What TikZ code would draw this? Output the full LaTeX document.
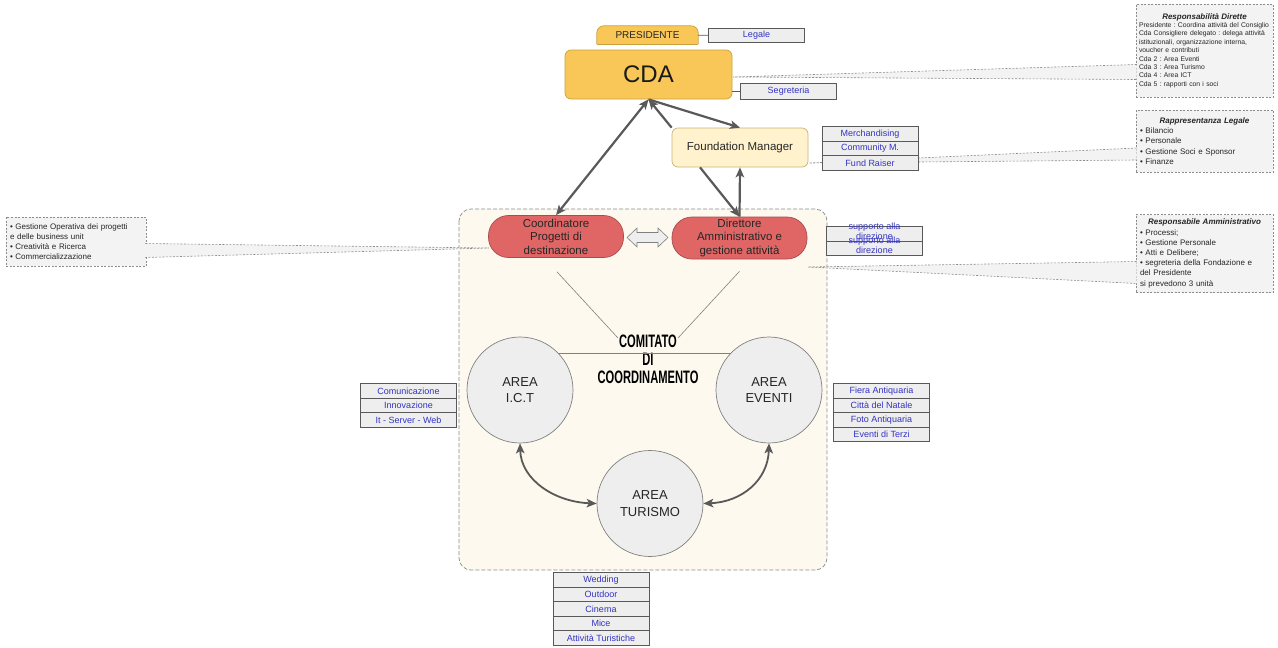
\documentclass[tikz,border=0pt]{standalone}
\usepackage{fontspec}
\setmainfont{Liberation Sans}
\newfontfamily\condfont[FakeStretch=0.62]{Liberation Sans}
\usetikzlibrary{positioning,arrows.meta,backgrounds}
\frenchspacing
\hyphenpenalty=10000

\definecolor{cdagold}{HTML}{F8C758}
\definecolor{cdaline}{HTML}{C9A23F}
\definecolor{fmfill}{HTML}{FFF2CC}
\definecolor{fmline}{HTML}{C9B27C}
\definecolor{pillred}{HTML}{E06666}
\definecolor{pillline}{HTML}{A64D4D}
\definecolor{boxgray}{HTML}{EEEEEE}
\definecolor{boxline}{HTML}{595959}
\definecolor{linkblue}{HTML}{3333C2}
\definecolor{notefill}{HTML}{F3F3F3}
\definecolor{notegray}{HTML}{8C8C8C}
\definecolor{zonefill}{HTML}{FDF9EE}
\definecolor{arrowgray}{HTML}{595959}
\definecolor{textdark}{HTML}{262626}

\tikzset{
  tag/.style={draw=boxline, fill=boxgray, line width=0.7pt, minimum width=96pt,
    minimum height=14.5pt, inner sep=0pt, outer sep=0pt, text=linkblue,
    font=\fontsize{9}{10}\selectfont},
  note/.style={draw=notegray, fill=notefill, dash pattern=on 2pt off 1.5pt,
    line width=0.6pt, inner xsep=4pt, inner ysep=0pt, align=left, text=textdark,
    font=\fontsize{8}{10.2}\selectfont},
  tail/.style={fill=notefill, draw=notegray, dash pattern=on 2pt off 1.5pt, line width=0.6pt},
  pill/.style={draw=pillline, fill=pillred, line width=0.7pt, rounded corners=20pt,
    minimum width=135pt, minimum height=42pt, inner sep=0pt, align=center, text=textdark,
    font=\fontsize{11.5}{13.5}\selectfont},
  area/.style={circle, draw=gray, fill=boxgray, line width=0.7pt, minimum size=106pt,
    inner sep=0pt, align=center, text=textdark, font=\fontsize{13}{16.5}\selectfont},
  link/.style={draw=arrowgray, line width=2.2pt, -{Stealth[length=10pt,width=8.5pt,inset=2.5pt]}},
  twoway/.style={link, {Stealth[length=10pt,width=8.5pt,inset=2.5pt]}-{Stealth[length=10pt,width=8.5pt,inset=2.5pt]}},
  thinline/.style={draw=gray, line width=0.6pt}
}

\newcommand{\notetitle}[1]{\makebox[\linewidth][c]{\fontsize{8}{8.5}\selectfont\bfseries\itshape #1}}

\begin{document}
\begin{tikzpicture}[x=1pt, y=-1pt]
  \useasboundingbox (0,0) rectangle (1278,648);

  % comitato zone
  \draw[fill=zonefill, draw=notegray, dash pattern=on 4pt off 2pt, line width=0.7pt, rounded corners=12pt]
    (459,209) rectangle (827,570);

  % notes on the right and left
  \node[note, minimum width=137pt, minimum height=93pt, inner xsep=3pt, text width=131pt,
    font=\fontsize{6.8}{8.4}\selectfont] at (1204.5,50.5) (dirette) {\notetitle{Responsabilità Dirette}\\
    Presidente : Coordina attività del Consiglio\\
    Cda Consigliere delegato : delega attività\\
    istituzionali, organizzazione interna,\\
    voucher e contributi\\
    Cda 2 : Area Eventi\\
    Cda 3 : Area Turismo\\
    Cda 4 : Area ICT\\
    Cda 5 : rapporti con i soci};
  \node[note, minimum width=137pt, minimum height=62pt, text width=129pt] at (1204.5,141) (legalnote) {\notetitle{Rappresentanza Legale}\\
    • Bilancio\\
    • Personale\\
    • Gestione Soci e Sponsor\\
    • Finanze};
  \node[note, minimum width=137pt, minimum height=78pt, text width=129pt] at (1204.5,253.5) (ammnote) {\notetitle{Responsabile Amministrativo}\\
    • Processi;\\
    • Gestione Personale\\
    • Atti e Delibere;\\
    • segreteria della Fondazione e\\
    del Presidente\\
    si prevedono 3 unità};
  \node[note, minimum width=140pt, minimum height=49pt, text width=132pt] at (76,241.5) (opnote) {• Gestione Operativa dei progetti\\
    e delle business unit\\
    • Creatività e Ricerca\\
    • Commercializzazione};

  \coordinate (tipcda) at (733,77);
  \coordinate (tipfm) at (809,163);
  \coordinate (tipdir) at (808,267);
  \coordinate (tipcoord) at (489,248);
  \filldraw[tail] ([xshift=1pt,yshift=-14pt]dirette.west) -- (tipcda) -- ([xshift=1pt,yshift=-29pt]dirette.west);
  \filldraw[tail] ([xshift=1pt,yshift=-7pt]legalnote.west) -- (tipfm) -- ([xshift=1pt,yshift=-19pt]legalnote.west);
  \filldraw[tail] ([xshift=1pt,yshift=-8pt]ammnote.west) -- (tipdir) -- ([xshift=1pt,yshift=-30pt]ammnote.west);
  \filldraw[tail] ([xshift=-1pt,yshift=-2pt]opnote.east) -- (tipcoord) -- ([xshift=-1pt,yshift=-16pt]opnote.east);

  % top of the chart
  \node[minimum width=101pt, minimum height=18pt, inner sep=0pt, text=textdark,
    font=\fontsize{10}{12}\selectfont] at (647.5,35) (pres) {PRESIDENTE};
  \begin{scope}[on background layer]
    \filldraw[fill=cdagold, draw=cdaline, line width=0.7pt, rounded corners=7pt]
      (pres.south west) -- (pres.north west) -- (pres.north east) -- (pres.south east);
    \draw[cdaline, line width=0.7pt] (pres.south west) -- (pres.south east);
  \end{scope}
  \node[draw=cdaline, fill=cdagold, line width=0.7pt, rounded corners=6pt, minimum width=167pt,
    minimum height=49pt, inner sep=0pt, text=black!90, font=\fontsize{24}{28}\selectfont] at (648.5,74.5) (cda) {CDA};
  \node[draw=fmline, fill=fmfill, line width=0.7pt, rounded corners=6pt, minimum width=136pt,
    minimum height=39pt, inner sep=0pt, text=textdark, font=\fontsize{11.5}{13}\selectfont] at (740,147.5) (fm) {Foundation Manager};

  \node[tag] at (756.5,35.5) (legale) {Legale};
  \node[tag, minimum height=16pt] at (788.5,91) (segreteria) {Segreteria};
  \draw[boxline, line width=0.7pt] (pres) to (legale);
  \draw[boxline, line width=0.7pt] (segreteria.west) to (segreteria.west -| cda.east);

  \node[tag] at (870,134) (merch) {Merchandising};
  \node[tag, below=0pt of merch] (community) {Community M.};
  \node[tag, below=0pt of community] (fundraiser) {Fund Raiser};

  % direzione
  \node[pill] at (556,236.5) (coord) {Coordinatore\\Progetti di\\destinazione};
  \node[pill] at (739.5,238) (dir) {Direttore\\Amministrativo e\\gestione attività};
  \filldraw[fill=boxgray, draw=gray, line width=0.6pt] (627,237.5) -- (637,228) -- (637,232.5)
    -- (658,232.5) -- (658,228) -- (668,237.5) -- (658,247) -- (658,242.5) -- (637,242.5)
    -- (637,247) -- cycle;

  \node[tag, minimum height=15pt] at (874.5,233.5) (supporto1) {\smash{\parbox[c]{96pt}{\centering supporto alla\\direzione}}};
  \node[tag, minimum height=14pt, below=0pt of supporto1] (supporto2) {\smash{\parbox[c]{96pt}{\centering supporto alla\\direzione}}};

  % aree
  \node[area] at (520,390) (ict) {AREA\\I.C.T};
  \node[area] at (769,390) (eventi) {AREA\\EVENTI};
  \node[area] at (650,503.5) (turismo) {AREA\\TURISMO};
  \node[align=center, inner sep=0pt, text=black,
    font=\condfont\bfseries\fontsize{18}{18}\selectfont] at (648,359) (comitato) {COMITATO\\DI\\COORDINAMENTO};

  \coordinate (cmL) at (618,338);
  \coordinate (cmR) at (678,338);
  \draw[thinline] ([xshift=1pt,yshift=-14pt]coord.south) to (cmL);
  \draw[thinline] ([yshift=-12pt]dir.south) to (cmR);
  \draw[thinline] (ict.44) to (eventi.136);

  \node[tag] at (408.5,391) (comunicazione) {Comunicazione};
  \node[tag, below=0pt of comunicazione] (innovazione) {Innovazione};
  \node[tag, below=0pt of innovazione] (itserver) {It - Server - Web};

  \node[tag] at (881.5,391) (fiera) {Fiera Antiquaria};
  \node[tag, below=0pt of fiera] (natale) {Città del Natale};
  \node[tag, below=0pt of natale] (foto) {Foto Antiquaria};
  \node[tag, below=0pt of foto] (terzi) {Eventi di Terzi};

  \node[tag] at (601,580) (wedding) {Wedding};
  \node[tag, below=0pt of wedding] (outdoor) {Outdoor};
  \node[tag, below=0pt of outdoor] (cinema) {Cinema};
  \node[tag, below=0pt of cinema] (mice) {Mice};
  \node[tag, below=0pt of mice] (turistiche) {Attività Turistiche};

  % arrows
  \draw[twoway] (cda.south) to (coord.north);
  \draw[link] (fm.north west) to (cda.south);
  \draw[link] (cda.south) to (fm.north);
  \draw[link] ([xshift=-40pt]fm.south) to (dir.north);
  \draw[link] (dir.north) to (fm.south);

  \draw[twoway, line width=1.8pt] (ict.south) .. controls (521,480) and (555,502) .. (turismo.west);
  \draw[twoway, line width=1.8pt] (eventi.south) .. controls (768,480) and (742,502) .. (turismo.east);
\end{tikzpicture}
\end{document}
